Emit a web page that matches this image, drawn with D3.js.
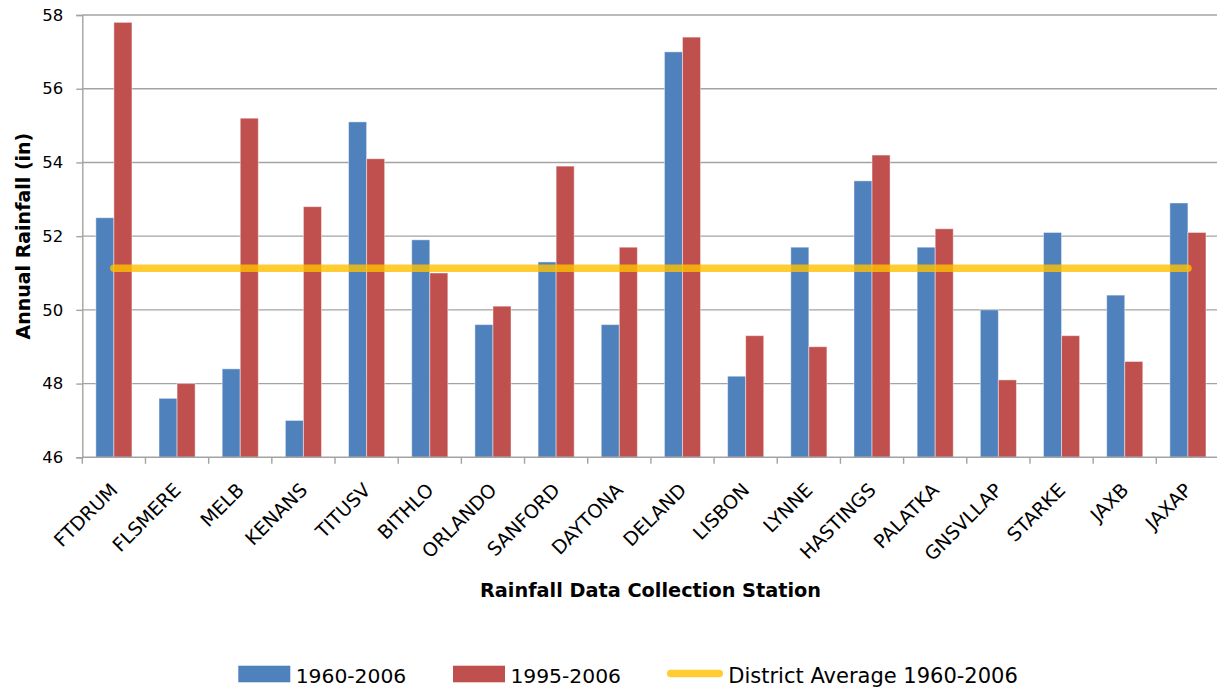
<!DOCTYPE html>
<html>
<head>
<meta charset="utf-8">
<script src="https://cdn.jsdelivr.net/npm/d3@7"></script>
<style>
  body { margin: 0; background: #fff; }
  svg { display: block; }
  text { font-family: "DejaVu Sans", sans-serif; fill: #000; }
</style>
</head>
<body>
<svg id="chart" width="1217" height="689"></svg>
<script>
// Rainfall stations along the x axis
const stations = ["FTDRUM", "FLSMERE", "MELB", "KENANS", "TITUSV", "BITHLO", "ORLANDO", "SANFORD", "DAYTONA",
  "DELAND", "LISBON", "LYNNE", "HASTINGS", "PALATKA", "GNSVLLAP", "STARKE", "JAXB", "JAXAP"];

// Mean annual rainfall (in) for each period
const rain1960to2006 = [52.5, 47.6, 48.4, 47.0, 55.1, 51.9, 49.6, 51.3, 49.6, 57.0, 48.2, 51.7, 53.5, 51.7, 50.0, 52.1, 50.4, 52.9];
const rain1995to2006 = [57.8, 48.0, 55.2, 52.8, 54.1, 51.0, 50.1, 53.9, 51.7, 57.4, 49.3, 49.0, 54.2, 52.2, 48.1, 49.3, 48.6, 52.1];

// District-wide mean, 1960-2006
const districtAverage = 51.13;

const yTicks = [46, 48, 50, 52, 54, 56, 58];
const seriesNames = ["1960-2006", "1995-2006", "District Average 1960-2006"];
const seriesColors = ["#4F81BD", "#C0504D", "#FFC000"];

const svg = d3.select("#chart");
const plotLeft = 82.3, plotRight = 1219.5, plotTop = 15, plotBottom = 457.3;
const gridColor = "#a3a3a3";

const x = d3.scaleBand()
  .domain(stations)
  .range([plotLeft, plotRight])
  .paddingInner(1.5 / 3.5)
  .paddingOuter(0.75 / 3.5);

const xSub = d3.scaleBand()
  .domain([0, 1])
  .range([0, x.bandwidth()]);

const y = d3.scaleLinear().domain([46, 58]).range([plotBottom, plotTop]);

// Horizontal gridlines
svg.append("g")
  .selectAll("line")
  .data(yTicks.filter(t => t !== 46))
  .join("line")
  .attr("x1", plotLeft).attr("x2", plotRight)
  .attr("y1", d => y(d)).attr("y2", d => y(d))
  .attr("stroke", gridColor)
  .attr("stroke-width", 1.4);

// Y axis
const yAxis = svg.append("g")
  .attr("transform", `translate(${plotLeft},0)`)
  .call(d3.axisLeft(y).tickValues(yTicks).tickSize(6).tickPadding(13).tickFormat(d3.format("d")));
yAxis.select(".domain").attr("stroke", gridColor).attr("stroke-width", 1.4);
yAxis.selectAll(".tick line").attr("stroke", gridColor).attr("stroke-width", 1.4);
yAxis.selectAll(".tick text").style("font-size", "16.5px").style("font-family", "'DejaVu Sans', sans-serif").attr("fill", "#000");

// Bars
const series = [rain1960to2006, rain1995to2006];
series.forEach((vals, si) => {
  svg.append("g")
    .selectAll("rect")
    .data(vals)
    .join("rect")
    .attr("x", (d, i) => x(stations[i]) + xSub(si))
    .attr("y", d => y(d))
    .attr("width", xSub.bandwidth())
    .attr("height", d => y(46) - y(d))
    .attr("fill", seriesColors[si])
    .attr("stroke", "#ffffff")
    .attr("stroke-opacity", 0.45)
    .attr("stroke-width", 1);
});

// X axis line and category boundary ticks
const step = x.step();
svg.append("line")
  .attr("x1", plotLeft).attr("x2", plotRight)
  .attr("y1", plotBottom).attr("y2", plotBottom)
  .attr("stroke", gridColor).attr("stroke-width", 1.4);
svg.append("g")
  .selectAll("line")
  .data(d3.range(stations.length + 1))
  .join("line")
  .attr("x1", i => plotLeft + i * step).attr("x2", i => plotLeft + i * step)
  .attr("y1", plotBottom).attr("y2", plotBottom + 6.5)
  .attr("stroke", gridColor).attr("stroke-width", 1.4);

// Rotated station labels
svg.append("g")
  .selectAll("text")
  .data(stations)
  .join("text")
  .attr("transform", d => `translate(${x(d) + x.bandwidth() / 2 + 5},${plotBottom + 34}) rotate(-45)`)
  .attr("text-anchor", "end")
  .style("font-size", "19px")
  .text(d => d);

// District average line
const first = stations[0], last = stations[stations.length - 1];
svg.append("line")
  .attr("x1", x(first) + x.bandwidth() / 2)
  .attr("x2", x(last) + x.bandwidth() / 2)
  .attr("y1", y(districtAverage)).attr("y2", y(districtAverage))
  .attr("stroke", seriesColors[2])
  .attr("stroke-opacity", 0.8)
  .attr("stroke-width", 7.5)
  .attr("stroke-linecap", "round");

// Axis titles
svg.append("text")
  .attr("transform", `translate(30,${(plotTop + plotBottom) / 2}) rotate(-90)`)
  .attr("text-anchor", "middle")
  .style("font-size", "19px").style("font-weight", "bold")
  .text("Annual Rainfall (in)");

svg.append("text")
  .attr("x", 650.5).attr("y", 597)
  .attr("text-anchor", "middle")
  .style("font-size", "19.3px").style("font-weight", "bold")
  .text("Rainfall Data Collection Station");

// Legend
const legend = svg.append("g");
const legendItems = [
  { name: seriesNames[0], color: seriesColors[0], kind: "rect", x: 238.3 },
  { name: seriesNames[1], color: seriesColors[1], kind: "rect", x: 453 },
  { name: seriesNames[2], color: seriesColors[2], kind: "line", x: 666.7 }
];
legendItems.forEach(item => {
  if (item.kind === "rect") {
    legend.append("rect")
      .attr("x", item.x).attr("y", 665.7)
      .attr("width", 52).attr("height", 16.6)
      .attr("fill", item.color);
    legend.append("text")
      .attr("x", item.x + 57.4).attr("y", 682.5)
      .style("font-size", "20.3px")
      .text(item.name);
  } else {
    legend.append("line")
      .attr("x1", item.x + 4).attr("x2", item.x + 52.6)
      .attr("y1", 673.5).attr("y2", 673.5)
      .attr("stroke", item.color)
      .attr("stroke-opacity", 0.8)
      .attr("stroke-width", 7.5)
      .attr("stroke-linecap", "round");
    legend.append("text")
      .attr("x", item.x + 61.6).attr("y", 682.5)
      .style("font-size", "21px")
      .text(item.name);
  }
});
</script>
</body>
</html>
